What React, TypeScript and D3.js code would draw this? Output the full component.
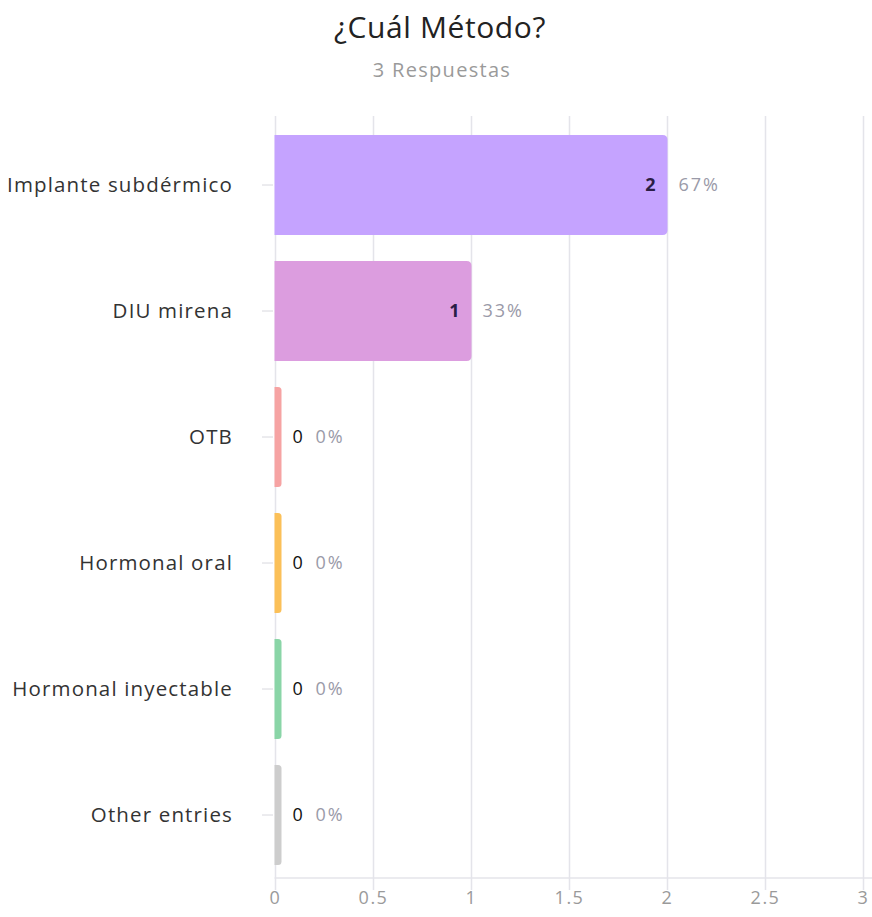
import React from "react";
import * as d3 from "d3";

const categories = [
  "Implante subdérmico",
  "DIU mirena",
  "OTB",
  "Hormonal oral",
  "Hormonal inyectable",
  "Other entries",
];
const counts = [2, 1, 0, 0, 0, 0];
const percents = ["67%", "33%", "0%", "0%", "0%", "0%"];
const colors = ["#c5a3ff", "#dc9ddf", "#f6a3a3", "#fbc058", "#8ad5a7", "#cdcdcd"];
const xTicks = [0, 0.5, 1, 1.5, 2, 2.5, 3];
const title = "¿Cuál Método?";
const subtitle = "3 Respuestas";

const W = 872;
const H = 917;
const FONT = "'Open Sans', sans-serif";

function barPath(x0: number, x1: number, y0: number, h: number, r: number) {
  const w = x1 - x0;
  const rr = Math.min(r, w / 2, h / 2);
  return `M${x0},${y0}H${x1 - rr}Q${x1},${y0} ${x1},${y0 + rr}V${y0 + h - rr}Q${x1},${y0 + h} ${x1 - rr},${y0 + h}H${x0}Z`;
}

export default function App() {
  const x = d3.scaleLinear().domain([0, 3]).range([275.5, 863.5]);
  const y = d3
    .scaleBand<string>()
    .domain(categories)
    .range([122, 878])
    .paddingInner(0.206)
    .paddingOuter(0.103);
  const bw = y.bandwidth();
  const minW = 6;

  return (
    <svg
      width={W}
      height={H}
      style={{ position: "absolute", left: 0, top: 0, background: "#fff" }}
      fontFamily={FONT}
    >
      <text x={440} y={38} textAnchor="middle" fontSize={30} letterSpacing={0.6} fill="#222">
        {title}
      </text>
      <text x={442} y={77} textAnchor="middle" fontSize={20} letterSpacing={1.3} fill="#9a9a9a">
        {subtitle}
      </text>

      {xTicks.map((t) => (
        <g key={t}>
          <line
            x1={x(t)}
            x2={x(t)}
            y1={116}
            y2={890}
            stroke="#e4e4ea"
            strokeWidth={1.5}
          />
          <text
            x={x(t)}
            y={904}
            textAnchor="middle"
            fontSize={18}
            letterSpacing={1.5}
            fill="#9a9a9a"
          >
            {t}
          </text>
        </g>
      ))}
      <line x1={x(0) - 1} x2={W} y1={878} y2={878} stroke="#e4e4ea" strokeWidth={1.5} />

      {categories.map((c, i) => {
        const y0 = y(c) as number;
        const cy = y0 + bw / 2;
        const x1 = Math.max(x(counts[i]), x(0) + minW);
        const inside = x(counts[i]) - x(0) > 30;
        return (
          <g key={c}>
            <line x1={262} x2={273} y1={cy} y2={cy} stroke="#d8d8de" strokeWidth={1} />
            <text
              x={233}
              y={cy}
              dy="0.35em"
              textAnchor="end"
              fontSize={20.5}
              letterSpacing={1.15}
              fill="#333"
            >
              {c}
            </text>
            <path d={barPath(x(0) - 1, x1, y0, bw, 5)} fill={colors[i]} />
            {inside ? (
              <>
                <text
                  x={x1 - 12}
                  y={cy}
                  dy="0.35em"
                  textAnchor="end"
                  fontSize={18}
                  fontWeight={700}
                  fill="#2b1d45"
                >
                  {counts[i]}
                </text>
                <text x={x1 + 11} y={cy} dy="0.35em" fontSize={18} letterSpacing={2} fill="#9a9aa8">
                  {percents[i]}
                </text>
              </>
            ) : (
              <>
                <text x={x1 + 11} y={cy} dy="0.35em" fontSize={18} fill="#111">
                  {counts[i]}
                </text>
                <text x={x1 + 34} y={cy} dy="0.35em" fontSize={18} letterSpacing={2} fill="#9a9aa8">
                  {percents[i]}
                </text>
              </>
            )}
          </g>
        );
      })}
    </svg>
  );
}
